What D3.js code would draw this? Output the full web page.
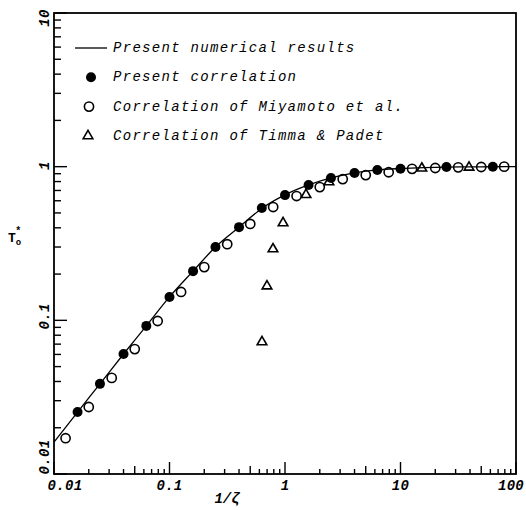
<!DOCTYPE html>
<html>
<head>
  <meta charset="utf-8" />
  <script src="https://d3js.org/d3.v7.min.js"></script>
  <style>
    body { margin: 0; background: #fff; }
    text { font-family: "Liberation Mono", "Courier New", monospace; fill: #000; }
  </style>
</head>
<body>
  <svg id="chart" width="526" height="510"></svg>
  <script>
    // present numerical results (solid line)
    const curveX = [0.01, 0.016, 0.025, 0.04, 0.063, 0.1, 0.16, 0.25, 0.4, 0.63, 1, 1.6, 2.5, 4, 6.3, 10, 16, 25, 40, 63, 100];
    const curveT = [0.0161, 0.0253, 0.0386, 0.0604, 0.092, 0.142, 0.209, 0.30, 0.404, 0.535, 0.655, 0.76, 0.845, 0.91, 0.952, 0.972, 0.985, 0.993, 0.997, 0.999, 1.0];

    // present correlation (filled circles)
    const presentX = [0.016, 0.025, 0.04, 0.063, 0.1, 0.16, 0.25, 0.4, 0.63, 1, 1.6, 2.5, 4, 6.3, 10, 25, 63];
    const presentT = [0.0253, 0.0386, 0.0604, 0.092, 0.142, 0.209, 0.30, 0.404, 0.538, 0.653, 0.759, 0.843, 0.909, 0.952, 0.968, 0.995, 1.0];

    // correlation of Miyamoto et al. (open circles)
    const miyamotoX = [0.0126, 0.02, 0.0316, 0.05, 0.079, 0.126, 0.2, 0.316, 0.5, 0.79, 1.26, 2, 3.16, 5, 7.9, 12.6, 20, 31.6, 50, 79];
    const miyamotoT = [0.0171, 0.0273, 0.0422, 0.065, 0.099, 0.153, 0.222, 0.313, 0.424, 0.546, 0.644, 0.736, 0.83, 0.881, 0.92, 0.968, 0.98, 0.99, 0.995, 1.0];

    // correlation of Timma & Padet (open triangles)
    const timmaX = [0.632, 0.698, 0.787, 0.962, 1.52, 2.4, 15.3, 39.2];
    const timmaT = [0.0723, 0.167, 0.291, 0.43, 0.657, 0.795, 0.976, 0.99];

    const xTickLabels = ["0.01", "0.1", "1", "10", "100"];
    const yTickLabels = ["0.01", "0.1", "1", "10"];
    const legendLabels = [
      "Present numerical results",
      "Present correlation",
      "Correlation of Miyamoto et al.",
      "Correlation of Timma & Padet"
    ];

    const svg = d3.select("#chart");
    const margin = { left: 54, right: 516, top: 13, bottom: 474 };

    const x = d3.scaleLog().domain([0.01, 100]).range([margin.left, margin.right]);
    const y = d3.scaleLog().domain([0.01, 10]).range([margin.bottom, margin.top]);

    const isPow10 = v => Math.abs(Math.log10(v) - Math.round(Math.log10(v))) < 1e-6;
    const isFive = v => Math.abs(v / Math.pow(10, Math.floor(Math.log10(v) + 1e-9)) - 5) < 1e-6;

    // ticks (inward)
    const axes = svg.append("g").attr("stroke", "#000");
    axes.selectAll("line.xt")
      .data(x.ticks())
      .join("line")
      .attr("class", "xt")
      .attr("x1", d => x(d)).attr("x2", d => x(d))
      .attr("y1", margin.bottom)
      .attr("y2", d => margin.bottom - (isPow10(d) ? 12 : isFive(d) ? 8 : 5))
      .attr("stroke-width", 1.4);

    axes.selectAll("line.yt")
      .data(y.ticks())
      .join("line")
      .attr("class", "yt")
      .attr("y1", d => y(d)).attr("y2", d => y(d))
      .attr("x1", margin.left)
      .attr("x2", d => margin.left + (isPow10(d) ? 13 : 7))
      .attr("stroke-width", 1.4);

    // frame
    svg.append("rect")
      .attr("x", margin.left).attr("y", margin.top)
      .attr("width", margin.right - margin.left).attr("height", margin.bottom - margin.top)
      .attr("fill", "none").attr("stroke", "#000").attr("stroke-width", 1.8);

    // tick labels
    const xNudge = { "0.01": 11, "100": -5 };
    svg.selectAll("text.xl")
      .data(xTickLabels)
      .join("text")
      .attr("class", "xl")
      .attr("x", d => x(+d) + (xNudge[d] || 0))
      .attr("y", 490)
      .attr("text-anchor", "middle")
      .attr("font-size", 14).attr("font-weight", "bold").attr("font-style", "italic")
      .attr("letter-spacing", 0.3)
      .text(d => d);

    const yNudge = { "0.01": -17, "0.1": -4, "1": -1, "10": 5 };
    svg.selectAll("text.yl")
      .data(yTickLabels)
      .join("text")
      .attr("class", "yl")
      .attr("transform", d => "translate(49," + (y(+d) + (yNudge[d] || 0)) + ") rotate(-90)")
      .attr("text-anchor", "middle")
      .attr("font-size", 14).attr("font-weight", "bold").attr("font-style", "italic")
      .attr("letter-spacing", 0.3)
      .text(d => d);

    // axis titles
    svg.append("text")
      .attr("x", 227).attr("y", 503)
      .attr("text-anchor", "middle")
      .attr("font-size", 14).attr("font-weight", "bold").attr("font-style", "italic")
      .text("1/ζ");

    const yTitle = svg.append("text").attr("x", 8).attr("y", 242)
      .attr("font-size", 13).attr("font-weight", "bold");
    yTitle.append("tspan").text("T");
    yTitle.append("tspan").attr("dy", 3).attr("font-size", 9).text("o");
    yTitle.append("tspan").attr("dx", -6).attr("dy", -11).attr("font-size", 10).text("*");

    // numerical curve
    const line = d3.line()
      .x((d, i) => x(curveX[i]))
      .y(d => y(d))
      .curve(d3.curveMonotoneX);

    svg.append("path")
      .datum(curveT)
      .attr("d", line)
      .attr("fill", "none")
      .attr("stroke", "#000")
      .attr("stroke-width", 1.3);

    // markers
    svg.selectAll("circle.present")
      .data(presentT)
      .join("circle")
      .attr("class", "present")
      .attr("cx", (d, i) => x(presentX[i]))
      .attr("cy", d => y(d))
      .attr("r", 5)
      .attr("fill", "#000");

    svg.selectAll("circle.miya")
      .data(miyamotoT)
      .join("circle")
      .attr("class", "miya")
      .attr("cx", (d, i) => x(miyamotoX[i]))
      .attr("cy", d => y(d))
      .attr("r", 4.6)
      .attr("fill", "none")
      .attr("stroke", "#000")
      .attr("stroke-width", 1.6);

    const tri = d3.symbol().type(d3.symbolTriangle).size(40);
    svg.selectAll("path.timma")
      .data(timmaT)
      .join("path")
      .attr("class", "timma")
      .attr("transform", (d, i) => "translate(" + x(timmaX[i]) + "," + y(d) + ")")
      .attr("d", tri)
      .attr("fill", "none")
      .attr("stroke", "#000")
      .attr("stroke-width", 1.6);

    // legend
    const legend = svg.append("g");
    const rowY = i => 48 + i * 29.3;
    legend.append("line")
      .attr("x1", 75).attr("x2", 107)
      .attr("y1", rowY(0)).attr("y2", rowY(0))
      .attr("stroke", "#000").attr("stroke-width", 1.3);
    legend.append("circle").attr("cx", 91).attr("cy", rowY(1)).attr("r", 5).attr("fill", "#000");
    legend.append("circle").attr("cx", 89).attr("cy", rowY(2)).attr("r", 4.6)
      .attr("fill", "none").attr("stroke", "#000").attr("stroke-width", 1.6);
    legend.append("path").attr("transform", "translate(88," + rowY(3) + ")")
      .attr("d", tri).attr("fill", "none").attr("stroke", "#000").attr("stroke-width", 1.6);

    legend.selectAll("text")
      .data(legendLabels)
      .join("text")
      .attr("x", 113)
      .attr("y", (d, i) => rowY(i) + 4)
      .attr("font-size", 14).attr("font-style", "italic")
      .attr("letter-spacing", 1.3)
      .text(d => d);
  </script>
</body>
</html>
